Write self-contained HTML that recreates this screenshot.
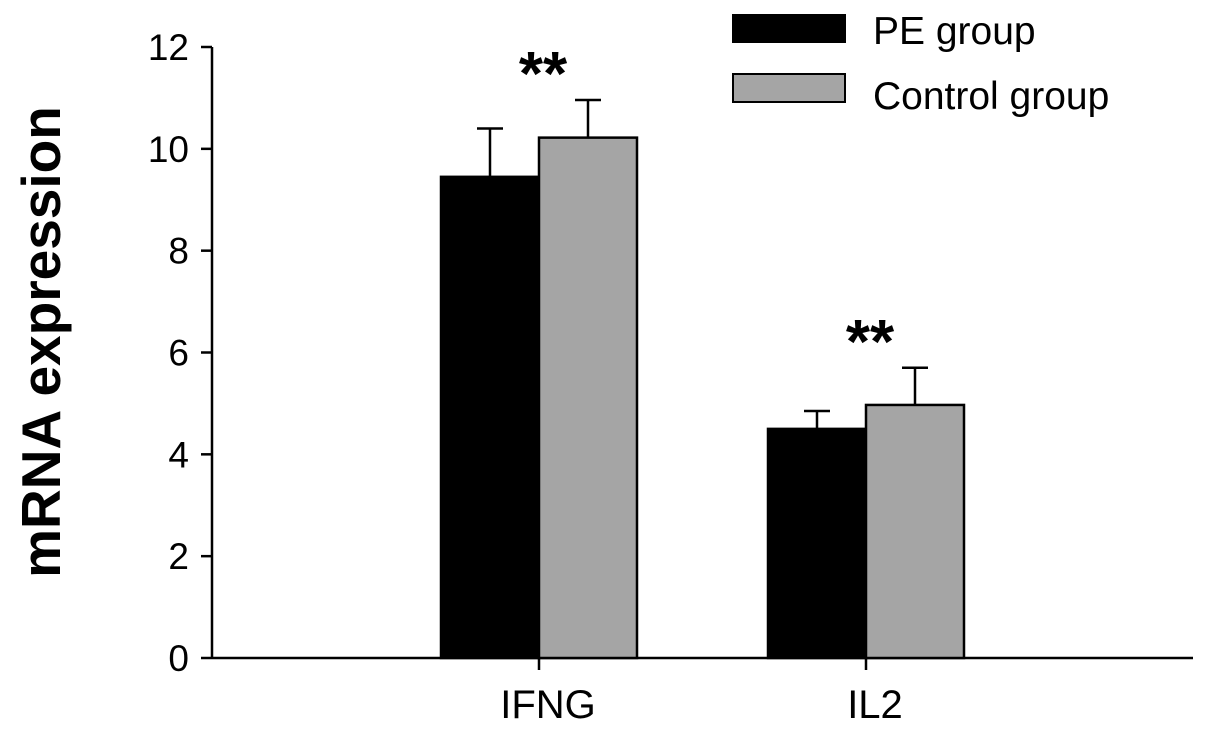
<!DOCTYPE html>
<html><head><meta charset="utf-8"><style>
body{margin:0;background:#fff}
svg{display:block;font-family:"Liberation Sans",sans-serif}
</style></head><body>
<svg id="chart" width="1205" height="731">
<g id="axes"></g><g id="bars"></g>
<text transform="translate(60,342) rotate(-90)" text-anchor="middle" font-size="55" font-weight="bold">mRNA expression</text>
<g>
<rect x="733" y="15" width="112" height="27" fill="#000" stroke="#000" stroke-width="2"/>
<text x="873" y="44" font-size="39">PE group</text>
<rect x="733" y="74" width="112" height="28" fill="#a5a5a5" stroke="#000" stroke-width="2"/>
<text x="873" y="109" font-size="39">Control group</text>
</g>
</svg>
<script>
const categories=["IFNG","IL2"];
const peValues=[9.45,4.5];
const peErrors=[0.95,0.35];
const controlValues=[10.22,4.97];
const controlErrors=[0.74,0.73];
const yTicks=[0,2,4,6,8,10,12];
const sigLabels=["**","**"];
const NS="http://www.w3.org/2000/svg";
const x0=212,x1=1193,y0=658,yTop=47,yMax=12;
const y=v=>y0-(y0-yTop)*v/yMax;
const band=(x1-x0)/3;
const cx=i=>x0+(i+1)*band;
const bw=98;
function mk(tag,attrs,parent,txt){const e=document.createElementNS(NS,tag);for(const k in attrs)e.setAttribute(k,attrs[k]);if(txt!==undefined)e.textContent=txt;parent.appendChild(e);return e;}
const axes=document.getElementById('axes'),bars=document.getElementById('bars');
let e=mk('line',{x1:x0,y1:yTop,x2:x0,y2:y0,stroke:'#000','stroke-width':2.5},axes);


e=mk('line',{x1:x0,y1:y0,x2:x1,y2:y0,stroke:'#000','stroke-width':2.5},axes);


yTicks.forEach(t=>{
 const tk=mk('line',{x1:x0-11,y1:y(t),x2:x0,y2:y(t),stroke:'#000','stroke-width':2.5},axes);
 
 
 const lb=mk('text',{x:189,y:y(t)+13,'text-anchor':'end','font-size':37},axes,String(t));
 
 
});
categories.forEach((c,i)=>{
 const tk=mk('line',{x1:cx(i),y1:y0,x2:cx(i),y2:y0+12,stroke:'#000','stroke-width':2.5},axes);
 
 
 const lb=mk('text',{x:cx(i)+9,y:718,'text-anchor':'middle','font-size':40},axes,c);
 
 
 [[peValues,peErrors,'#000',-bw,'pe'],[controlValues,controlErrors,'#a5a5a5',0,'control']].forEach(([vals,errs,fill,off,nm])=>{
  const xl=cx(i)+off, xm=xl+bw/2;
  const er=mk('line',{x1:xm,y1:y(vals[i]),x2:xm,y2:y(vals[i]+errs[i]),stroke:'#000','stroke-width':2.5},bars);
  
  
  const cap=mk('line',{x1:xm-13,y1:y(vals[i]+errs[i]),x2:xm+13,y2:y(vals[i]+errs[i]),stroke:'#000','stroke-width':2.5},bars);
  
  
  const r=mk('rect',{x:xl,y:y(vals[i]),width:bw,height:y0-y(vals[i]),fill:fill,stroke:'#000','stroke-width':2.5},bars);
  
  
 });
 const top=Math.max(peValues[i]+peErrors[i],controlValues[i]+controlErrors[i]);
 const s=mk('text',{x:cx(i)+4,y:y(top)-5,'text-anchor':'middle','font-size':62,'font-weight':'bold'},bars,sigLabels[i]);
 
 
});
</script>
</body></html>
